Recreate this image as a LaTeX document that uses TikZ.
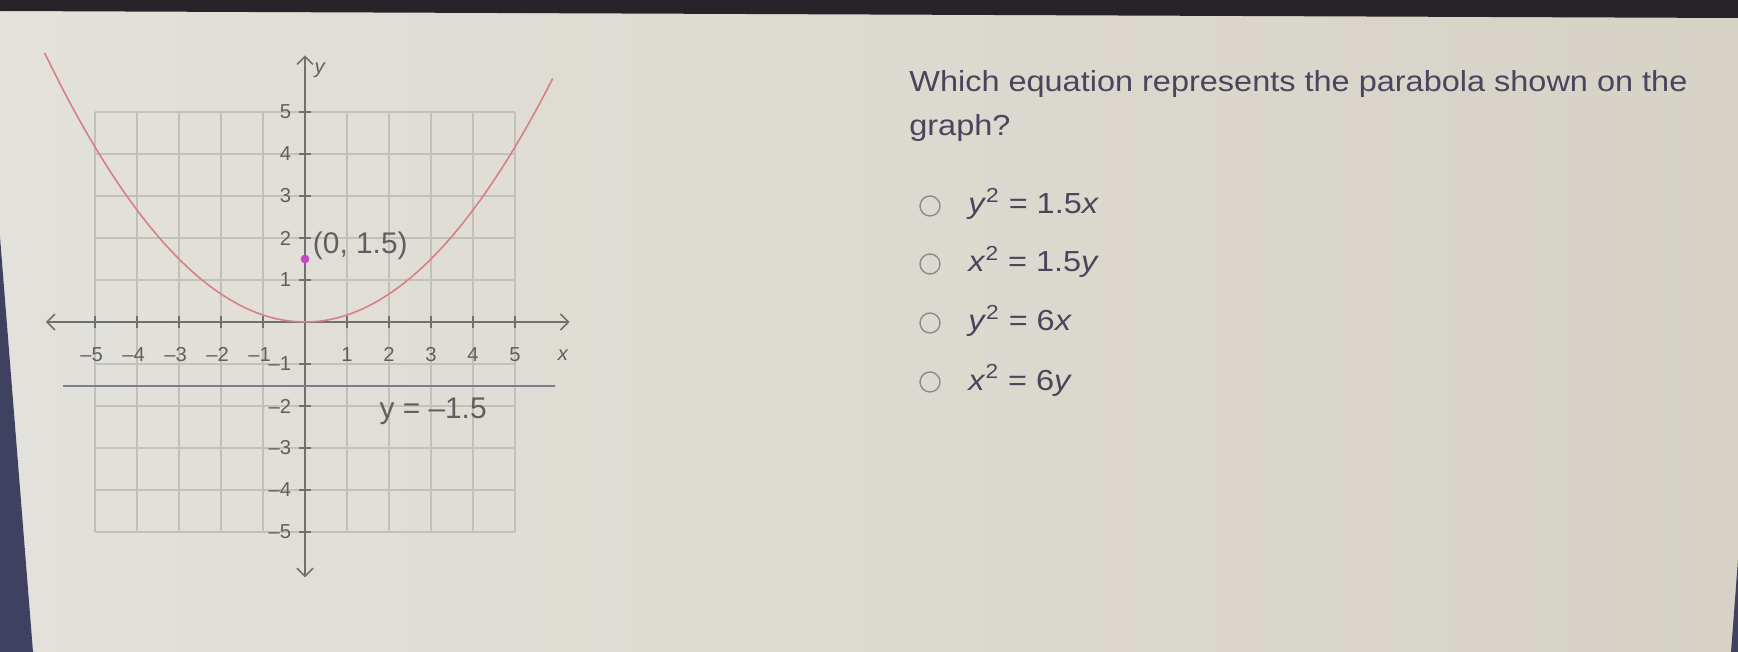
\documentclass[tikz,border=0pt]{standalone}
\usepackage{fontspec}
\usepackage{xcolor}
\newfontfamily\qfont{Liberation Sans}[FakeStretch=1.12]
\newfontfamily\lblfont{Liberation Sans}
\usetikzlibrary{arrows.meta}
\definecolor{bgleft}{RGB}{227,225,219}
\definecolor{bgright}{RGB}{214,210,198}
\definecolor{bezel}{RGB}{38,36,40}
\definecolor{bezelblue}{RGB}{62,66,96}
\definecolor{gridgray}{RGB}{194,192,186}
\definecolor{axisgray}{RGB}{112,112,112}
\definecolor{labelgray}{RGB}{95,95,98}
\definecolor{curvered}{RGB}{214,128,134}
\definecolor{focusmag}{RGB}{198,72,196}
\definecolor{dirgray}{RGB}{122,126,142}
\definecolor{qtext}{RGB}{72,70,92}
\definecolor{circgray}{RGB}{140,140,140}
\tikzset{
        gridline/.style={
            draw=gridgray, line width=0.6pt
        },
        axisline/.style={
            draw=axisgray, line width=0.9pt
        },
        ticklabel/.style={
            text=labelgray, inner sep=1pt,
            font=\fontsize{11.5}{11.5}\lblfont
        },
        bigtext/.style={
            text=labelgray, inner sep=1pt,
            font=\fontsize{17}{17}\lblfont
        },
        question/.style={
            text=qtext, inner sep=0pt, anchor=base west,
            font=\fontsize{16.5}{16.5}\qfont
        },
        optcircle/.style={
            circle, draw=circgray, line width=0.8pt,
            minimum size=0.4cm, inner sep=0pt
        }
    }

\begin{document}
\begin{tikzpicture}[
    x=0.2mm, y=-0.2mm,
    > = {Straight Barb[length=1.6mm,width=3.2mm]},
  ]
    % photo background
    \useasboundingbox (0,0) rectangle (1738,652);
    \shade[left color=bgleft, right color=bgright] (0,0) rectangle (1738,652);
    \fill[bezel] (0,0) -- (1738,0) -- (1738,18) -- (0,11) -- cycle;
    \fill[bezelblue] (0,237) -- (33,652) -- (0,652) -- cycle;
    \fill[bezelblue] (1738,560) -- (1738,652) -- (1731,652) -- cycle;

    % the graph
    \begin{scope}[shift={(305,322)}, x=0.84cm, y=0.84cm]
        \foreach \i in {-5,...,5} {
            \draw[gridline] (\i,-5) -- (\i,5);
            \draw[gridline] (-5,\i) -- (5,\i);
        }
        \draw[axisline, <->] (-6.17,0) -- (6.3,0);
        \draw[axisline, <->] (0,-6.08) -- (0,6.35);
        \foreach \i in {1,...,5} {
            \draw[axisline] (\i,-0.15) -- (\i,0.15);
            \draw[axisline] (-\i,-0.15) -- (-\i,0.15);
            \draw[axisline] (-0.15,\i) -- (0.15,\i);
            \draw[axisline] (-0.15,-\i) -- (0.15,-\i);
            \node[ticklabel] (xp\i) at (\i,-0.78) {\i};
            \node[ticklabel] (xm\i) at (-\i-0.08,-0.78) {–\i};
            \node[ticklabel, anchor=east] (yp\i) at (-0.28,\i) {\i};
            \node[ticklabel, anchor=east] (ym\i) at (-0.28,-\i) {–\i};
        }
        \node[ticklabel] (xlab) at (6.14,-0.78) {\itshape x};
        \node[ticklabel] (ylab) at (0.35,6.0) {\itshape y};

        % directrix and parabola
        \draw[dirgray, line width=1.1pt] (-5.76,-1.53) -- (5.95,-1.53);
        \node[bigtext] (dirlab) at (3.05,-2.12) {y = –1.5};
        \draw[curvered, line width=0.9pt, domain=-6.2:5.9, samples=80]
            plot (\x, {\x*\x/6});
        \node[circle, fill=focusmag, inner sep=0pt, minimum size=5pt] (F) at (0,1.5) {};
        \node[bigtext, anchor=west] (flab) at (0.14,1.82) {(0, 1.5)};
    \end{scope}

    % question and choices
    \node[question] (q1) at (909,92) {Which equation represents the parabola shown on the};
    \node[question] (q2) at (909,136) {graph?};

    \node[optcircle] (c1) at (930,206) {};
    \node[optcircle] (c2) at (930,264) {};
    \node[optcircle] (c3) at (930,323) {};
    \node[optcircle] (c4) at (930,382) {};
    \node[question] (a1) at (968,214) {\textit{y}\textsuperscript{2} = 1.5\textit{x}};
    \node[question] (a2) at (968,272) {\textit{x}\textsuperscript{2} = 1.5\textit{y}};
    \node[question] (a3) at (968,331) {\textit{y}\textsuperscript{2} = 6\textit{x}};
    \node[question] (a4) at (968,390) {\textit{x}\textsuperscript{2} = 6\textit{y}};

\end{tikzpicture}
\end{document}
